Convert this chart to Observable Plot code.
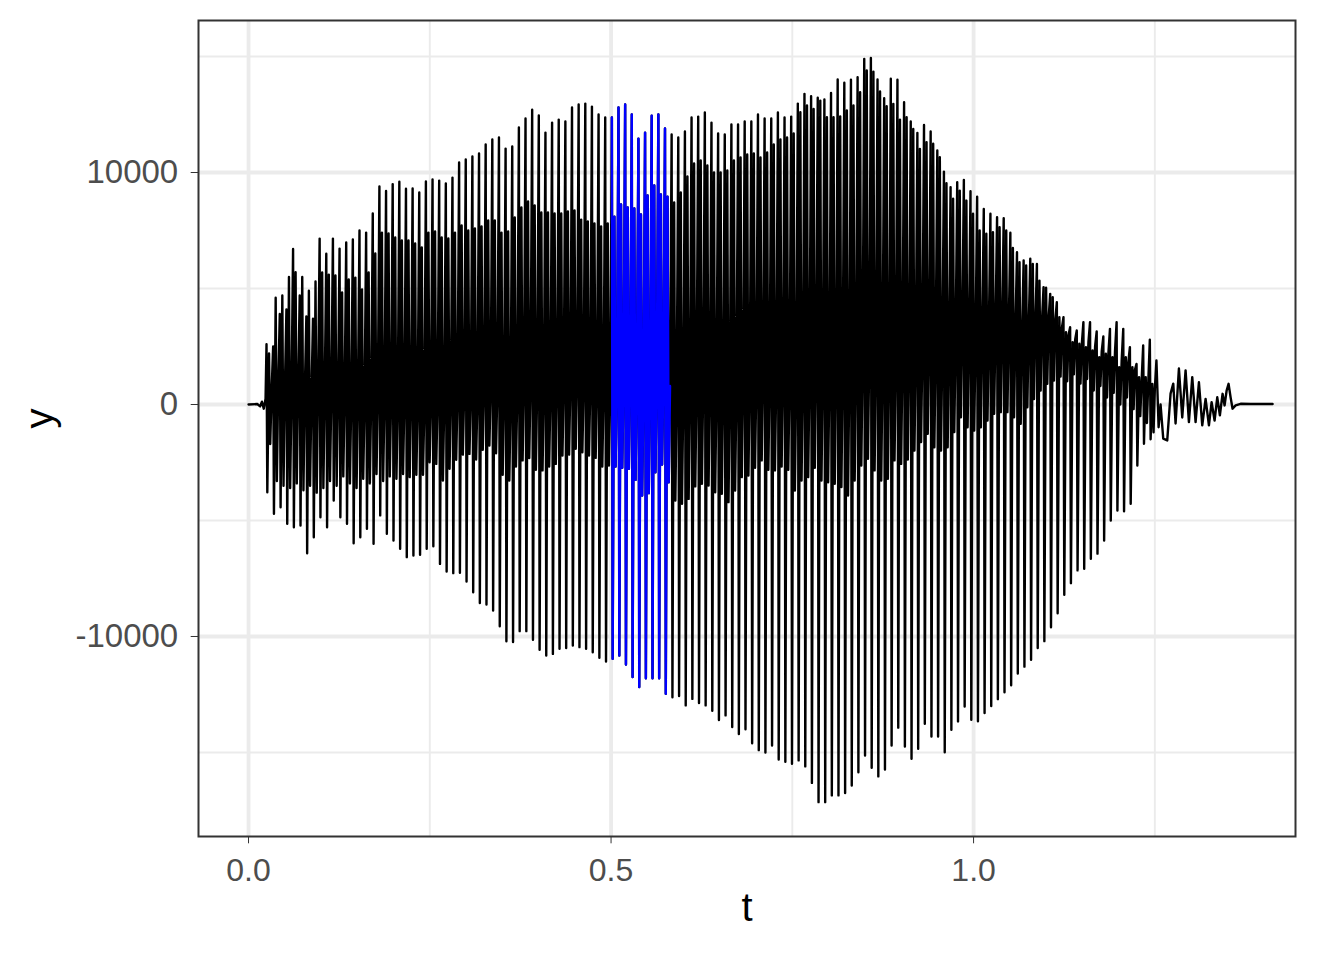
<!DOCTYPE html>
<html><head><meta charset="utf-8">
<script src="https://cdn.jsdelivr.net/npm/d3@7"></script>
<script src="https://cdn.jsdelivr.net/npm/@observablehq/plot@0.6"></script>
<style>html,body{margin:0;padding:0;background:#fff;} #chart svg{display:block;}</style>
</head><body><div id="chart"></div>
<script>
// glottal cycles: start time and spacing of the cycles (seconds)
const t0 = 0.0248;
const period = 0.00916;
// order of the peaks inside one cycle (fraction of the period)
const phase = [0, 0.12, 0.38, 0.56, 0.76];

// per-cycle main positive peak
const peakHigh = [2600,2500,3900,4100,6700,4700,3800,3700,7150,6500,
7150,6720,6980,7110,7500,7410,8230,9400,9200,9500,
9600,9300,9310,9140,9610,9700,9650,9530,9780,10430,
10560,10690,10820,11210,11420,11510,11030,11120,11940,12330,
12710,12460,11720,12150,12280,12200,12800,12930,12970,12840,
12500,12370,12370,12800,12930,12500,11460,11720,12450,12500,
11900,11640,11510,11770,12370,12410,12590,12150,11680,11640,
12070,12070,12200,12200,12500,12330,12330,12590,12370,12410,
12970,13390,13290,13220,13150,13430,14010,13870,14000,14110,
14900,14940,14010,13200,14040,14000,13030,12200,11710,12050,
11770,10950,10040,9370,9580,9680,9190,8960,8430,8220,
8070,8030,7400,6560,6210,6280,6060,5060,4770,4410,
3760,3330,3190,3550,3550,3150,2930,3260,3550,3260,
2470,1750,2540,2790];
// per-cycle main negative peak
const peakLow = [-3780,-4710,-4430,-5140,-5290,-5220,-6410,-5720,-4860,-5290,
-4140,-4860,-5140,-5980,-5720,-5360,-6000,-4780,-5570,-5860,
-6220,-6580,-6510,-6480,-6220,-6110,-6870,-7200,-7270,-7250,
-7630,-8090,-8560,-8620,-8880,-9560,-10210,-10240,-9770,-9770,
-10140,-10570,-10820,-10750,-10530,-10500,-10390,-10460,-10530,-10680,
-10920,-11080,-10960,-10820,-11210,-11750,-12180,-11800,-11800,-11800,
-12470,-12620,-12570,-12970,-12690,-12870,-12970,-13200,-13600,-13400,
-13900,-14200,-14000,-14600,-14900,-15000,-14700,-15300,-15400,-15490,
-15340,-15600,-16310,-17140,-17140,-16850,-16850,-16750,-16420,-15850,
-15130,-15660,-16030,-15730,-14700,-13930,-14740,-15270,-14840,-13760,
-14310,-14310,-14990,-14020,-13660,-13020,-13590,-13650,-13300,-13000,
-12700,-12400,-12100,-11600,-11300,-11000,-10500,-10200,-9600,-9000,
-8200,-7700,-7150,-7080,-6650,-6430,-5860,-5000,-4570,-4600,
-4280,-2630,-1690,-1500];
// per-cycle secondary positive peak
const secondHigh = [2200,4600,4700,5500,5700,5500,4900,5300,5690,5600,
5560,4830,5390,5470,4960,5690,6510,7410,7370,7200,
7070,7070,6940,6770,7410,7460,7200,7160,7410,7720,
7500,7590,7670,7930,7930,7410,7460,8060,8490,8750,
8580,8280,8280,8230,8230,8320,8360,7970,7890,7800,
7680,7800,8100,8620,8490,8450,8190,9010,9440,9050,
8960,8710,9140,9830,10390,10520,10300,10000,10000,10090,
10520,10650,10780,10820,10650,10860,11210,11420,11510,11680,
12600,12890,12740,13100,12380,12380,12420,12670,12890,13460,
14400,14350,13490,12860,12960,12280,12380,11880,11020,11310,
11240,10660,9540,8870,9220,8790,8220,7500,7360,7430,
7640,7500,6750,6130,5990,6060,5340,5030,4620,3760,
3120,2690,2620,2470,2330,2040,2190,2040,1610,2040,
1610,1180,1180,890];
// per-cycle secondary negative peak
const secondLow = [-1700,-3300,-3500,-3600,-3400,-3700,-3500,-3800,-3600,-3300,
-3500,-3100,-3400,-3600,-3200,-3400,-3000,-3300,-3100,-3200,
-3000,-3130,-3030,-3030,-2490,-2560,-3280,-2770,-2380,-2160,
-2130,-2370,-1950,-1770,-2100,-3030,-3280,-2670,-2410,-2310,
-2810,-2840,-2670,-2560,-2200,-2160,-1910,-2060,-2200,-2300,
-2670,-2630,-2670,-2730,-2770,-3250,-3920,-3820,-2920,-2590,
-3350,-4140,-4280,-4070,-3530,-3420,-3490,-3780,-3850,-4210,
-3710,-3130,-3060,-2730,-2410,-2810,-2840,-2670,-2810,-3710,
-3280,-3130,-2730,-3280,-3350,-3420,-3560,-3920,-3280,-2630,
-2340,-2840,-3280,-3200,-2410,-2560,-2370,-1980,-1620,-1260,
-1840,-1980,-1840,-1190,-550,-980,-1120,-980,-690,-400,
-330,-330,-550,-830,-120,240,600,890,1030,1200,
1000,1300,900,1100,600,800,300,500,0,300,
-200,-500,-800,-1200];
// per-cycle top of the dense ringing core
const coreTop = [500,800,600,400,700,500,300,600,400,500,
300,400,200,300,0,200,300,100,200,0,
200,100,0,-200,0,200,0,300,400,500,
400,300,600,800,700,300,200,500,900,1100,
800,600,700,900,1000,1100,1200,1000,900,800,
700,800,900,1000,1100,900,600,700,1000,1200,
800,500,400,600,900,1000,900,700,600,500,
700,900,1000,1200,1400,1300,1200,1300,1200,1000,
1200,1400,1700,1500,1400,1500,1600,1400,1700,2100,
2300,2100,1800,1700,2000,2200,2200,2400,2600,2800,
2600,2500,2600,2900,3200,3000,2900,3000,3200,3300,
3400,3400,3200,3000,3300,3500,3600,3700,3600,3300,
3000,2800,2600,2700,2500,2300,2200,2300,1900,1800,
1500,1000,900,700];

// onset before the first cycle
const leadT = [0, 0.012, 0.016, 0.0185, 0.021, 0.0235];
const leadY = [0, 20, -80, 120, -180, 250];
// decaying end after the last regular cycle
const tailT = [1.2522,1.2552,1.2579,1.2616,1.2671,1.2717,1.2754,1.2786,1.2832,1.2878,
1.2924,1.2970,1.3016,1.3062,1.3108,1.3154,1.3200,1.3246,1.3283,1.3324,
1.3361,1.3397,1.3434,1.3462,1.3490,1.3517,1.3545,1.3572,1.3614,1.3683,
1.3821,1.4124];
const tailY = [1900,-980,0,-1470,-1550,470,900,-820,1550,-560,
1470,-760,1180,-760,960,-900,240,-900,100,-690,
310,-470,460,-40,600,890,310,-180,-40,30,
20,20];

// highlighted window
const blueStart = 0.5, blueEnd = 0.583;

const xMajor = [0, 0.5, 1.0], xMinor = [0.25, 0.75, 1.25];
const yMajor = [-10000, 0, 10000], yMinor = [-15000, -5000, 5000, 15000];

const pts = [];
leadT.forEach((t, i) => pts.push({t, y: leadY[i]}));
for (let k = 0; k < peakHigh.length; k++) {
  const base = t0 + k * period;
  const vals = [peakHigh[k], peakLow[k], secondHigh[k], secondLow[k], coreTop[k]];
  vals.forEach((v, j) => pts.push({t: base + phase[j] * period, y: v}));
}
tailT.forEach((t, i) => pts.push({t, y: tailY[i]}));
const bluePts = pts.filter(d => d.t >= blueStart && d.t <= blueEnd);

const font = "Liberation Sans, Arial, Helvetica, sans-serif";
const chart = Plot.plot({
  width: 1344, height: 960,
  marginLeft: 198, marginRight: 49, marginTop: 20, marginBottom: 124,
  style: {background: "white", fontFamily: font},
  x: {domain: [-0.069, 1.444]},
  y: {domain: [-18621, 16552]},
  marks: [
    Plot.ruleX(xMinor, {stroke: "#ebebeb", strokeWidth: 1.9}),
    Plot.ruleY(yMinor, {stroke: "#ebebeb", strokeWidth: 1.9}),
    Plot.ruleX(xMajor, {stroke: "#ebebeb", strokeWidth: 3.8}),
    Plot.ruleY(yMajor, {stroke: "#ebebeb", strokeWidth: 3.8}),
    Plot.line(pts, {x: "t", y: "y", stroke: "black", strokeWidth: 2.4}),
    Plot.line(bluePts, {x: "t", y: "y", stroke: "blue", strokeWidth: 2.4}),
    Plot.frame({stroke: "#333333", strokeWidth: 2}),
    Plot.axisX(xMajor, {tickSize: 7.3, tickPadding: 14, fontSize: 32, fill: "#4d4d4d", stroke: "#333333", tickFormat: d3.format(".1f"), label: null}),
    Plot.axisY(yMajor, {tickSize: 7.3, tickPadding: 13, fontSize: 33, fill: "#4d4d4d", stroke: "#333333", tickFormat: d => String(d), label: null}),
    Plot.text(["t"], {frameAnchor: "bottom", dy: 84, fontSize: 40, fill: "black"}),
    Plot.text(["y"], {frameAnchor: "left", dx: -158, rotate: -90, fontSize: 40, fill: "black"})
  ]
});
document.getElementById("chart").appendChild(chart);
</script>
</body></html>
